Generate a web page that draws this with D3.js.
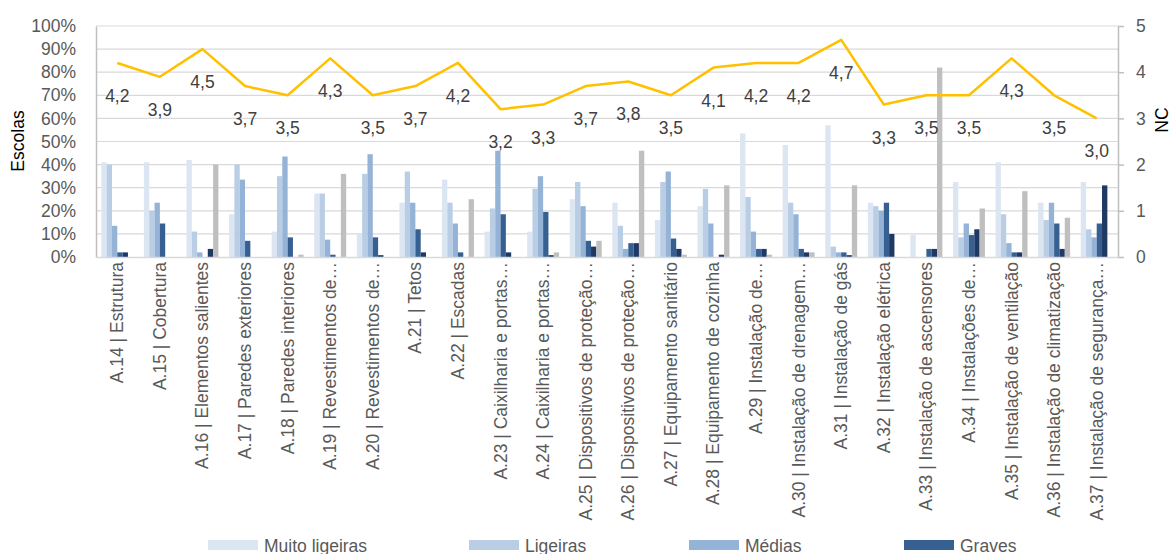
<!DOCTYPE html>
<html><head><meta charset="utf-8">
<script src="https://cdn.jsdelivr.net/npm/d3@7"></script>
<style>
body{margin:0;background:#fff}
svg{display:block}
text{font-family:"Liberation Sans",Arial,sans-serif}
</style>
</head><body>
<svg id="c" width="1173" height="554"></svg>
<script>
const categories = ["A.14 | Estrutura","A.15 | Cobertura","A.16 | Elementos salientes","A.17 | Paredes exteriores","A.18 | Paredes interiores","A.19 | Revestimentos de…","A.20 | Revestimentos de…","A.21 | Tetos","A.22 | Escadas","A.23 | Caixilharia e portas…","A.24 | Caixilharia e portas…","A.25 | Dispositivos de proteção…","A.26 | Dispositivos de proteção…","A.27 | Equipamento sanitário","A.28 | Equipamento de cozinha","A.29 | Instalação de…","A.30 | Instalação de drenagem…","A.31 | Instalação de gás","A.32 | Instalação elétrica","A.33 | Instalação de ascensores","A.34 | Instalações de…","A.35 | Instalação de ventilação","A.36 | Instalação de climatização","A.37 | Instalação de segurança…"];
const seriesNames = ["Muito ligeiras","Ligeiras","Médias","Graves","Muito graves","Não aplicável"];
const muitoLigeiras = [41,41,42,18.5,11,27.5,10,23.5,33.5,11,11,25,23.5,16,22,53.5,48.5,57,23.5,9.5,32.5,41,23.5,32.5];
const ligeiras      = [40,20,11,40,35,27.5,36,37,23.5,21,29.5,32.5,13.5,32.5,29.5,26,23.5,4.5,22,0,8.5,18.5,16,12];
const medias        = [13.5,23.5,2,33.5,43.5,7.5,44.5,23.5,14.5,46,35,22,3.5,37,14.5,11,18.5,2,20,0,14.5,6,23.5,8.5];
const graves        = [2,14.5,0,7,8.5,1,8.5,12,2,18.5,19.5,7,6,8,0,3.5,3.5,2,23.5,3.5,9.5,2,14.5,14.5];
const muitoGraves   = [2,0,3.5,0,0,0,0.8,2,0,2,0.8,4.5,6,3.5,1,3.5,2,0.8,10,3.5,12,2,3.5,31];
const naoAplicavel  = [0,0,40,0,1,36,0,0,25,0,2,7,46,1,31,1,2,31,0,82,21,28.5,17,0];
const nc = [4.2,3.9,4.5,3.7,3.5,4.3,3.5,3.7,4.2,3.2,3.3,3.7,3.8,3.5,4.1,4.2,4.2,4.7,3.3,3.5,3.5,4.3,3.5,3.0];
const leftTicks = [0,10,20,30,40,50,60,70,80,90,100];
const rightTicks = [0,1,2,3,4,5];
const legendNames = ["Muito ligeiras","Ligeiras","Médias","Graves"];

const seriesValues = [muitoLigeiras,ligeiras,medias,graves,muitoGraves,naoAplicavel];
const colors = ["#dce6f2","#b9cde5","#95b3d7","#376092","#1f3864","#bfbfbf"];

const svg = d3.select("#c");
const L = 96, R = 1118, T = 26, B = 257;

const x = d3.scaleBand().domain(categories).range([L, R]).paddingInner(0).paddingOuter(0);
const bw = x.bandwidth();
const inner = d3.scaleBand().domain(seriesNames).range([bw*0.125, bw*0.875]).padding(0);
const y = d3.scaleLinear().domain([0,100]).range([B, T]);
const yR = d3.scaleLinear().domain([0,5]).range([B, T]);

// gridlines
svg.append("g").selectAll("line").data(leftTicks.filter(d=>d>0)).join("line")
  .attr("x1", L).attr("x2", R).attr("y1", d=>y(d)).attr("y2", d=>y(d))
  .attr("stroke", "#d9d9d9").attr("stroke-width", 1.2);

// bars
const groups = svg.append("g").selectAll("g").data(categories).join("g")
  .attr("transform", d=>`translate(${x(d)},0)`);
groups.selectAll("rect").data((c,i)=>seriesNames.map((s,j)=>({s, v: seriesValues[j][i], j})))
  .join("rect")
  .attr("x", d=>inner(d.s)).attr("width", inner.bandwidth())
  .attr("y", d=>y(d.v)).attr("height", d=>B - y(d.v))
  .attr("fill", d=>colors[d.j]);

// left axis
const gl = svg.append("g").attr("transform", `translate(${L},0)`)
  .call(d3.axisLeft(y).tickValues(leftTicks).tickFormat(d=>d+"%").tickSize(0).tickPadding(20));
gl.select(".domain").attr("stroke", "#bfbfbf").attr("stroke-width", 1.5);
gl.selectAll("text").attr("font-size", 17.5).attr("fill", "#595959").attr("font-family", '"Liberation Sans",Arial,sans-serif');

// right axis
const gr = svg.append("g").attr("transform", `translate(${R},0)`)
  .call(d3.axisRight(yR).tickValues(rightTicks).tickFormat(d3.format("d")).tickSize(6).tickSizeOuter(0).tickPadding(12));
gr.select(".domain").attr("stroke", "#bfbfbf").attr("stroke-width", 1.5);
gr.selectAll("line").attr("stroke", "#bfbfbf").attr("stroke-width", 1.5);
gr.selectAll("text").attr("font-size", 17.5).attr("fill", "#595959").attr("font-family", '"Liberation Sans",Arial,sans-serif');

// bottom axis
const gb = svg.append("g").attr("transform", `translate(0,${B})`)
  .call(d3.axisBottom(x).tickSize(0).tickSizeOuter(0));
gb.select(".domain").attr("stroke", "#d9d9d9").attr("stroke-width", 1.5);
gb.selectAll("text")
  .attr("font-size", 17.5).attr("fill", "#595959").attr("font-family", '"Liberation Sans",Arial,sans-serif')
  .attr("text-anchor", "end").attr("dy", null).attr("y", null)
  .attr("transform", "translate(6,5) rotate(-90)");

// line
const cx = d => x(d) + bw/2;
svg.append("path").datum(nc)
  .attr("fill", "none").attr("stroke", "#ffc000").attr("stroke-width", 2.5).attr("stroke-linejoin","round")
  .attr("d", d3.line().x((d,i)=>cx(categories[i])).y(d=>yR(d)));

// line labels
svg.append("g").selectAll("text").data(nc).join("text")
  .attr("x", (d,i)=>cx(categories[i])).attr("y", d=>yR(d)+39)
  .attr("text-anchor","middle").attr("font-size", 17.5).attr("fill","#404040")
  .text(d=>d3.format(".1f")(d).replace(".", ","));

// axis titles
svg.append("text").attr("transform","translate(24,141) rotate(-90)").attr("text-anchor","middle")
  .attr("font-size",17.5).attr("fill","#000").text("Escolas");
svg.append("text").attr("transform","translate(1168,120) rotate(-90)").attr("text-anchor","middle")
  .attr("font-size",17.5).attr("fill","#000").text("NC");

// legend
const legX = [208, 469, 689, 904];
const lg = svg.append("g").selectAll("g").data(legendNames).join("g")
  .attr("transform", (d,i)=>`translate(${legX[i]},0)`);
lg.append("rect").attr("x",0).attr("y",540).attr("width",50).attr("height",10).attr("fill",(d,i)=>colors[i]);
lg.append("text").attr("x",56).attr("y",551.5).attr("font-size",17.5).attr("fill","#595959").text(d=>d);
</script>
</body></html>
